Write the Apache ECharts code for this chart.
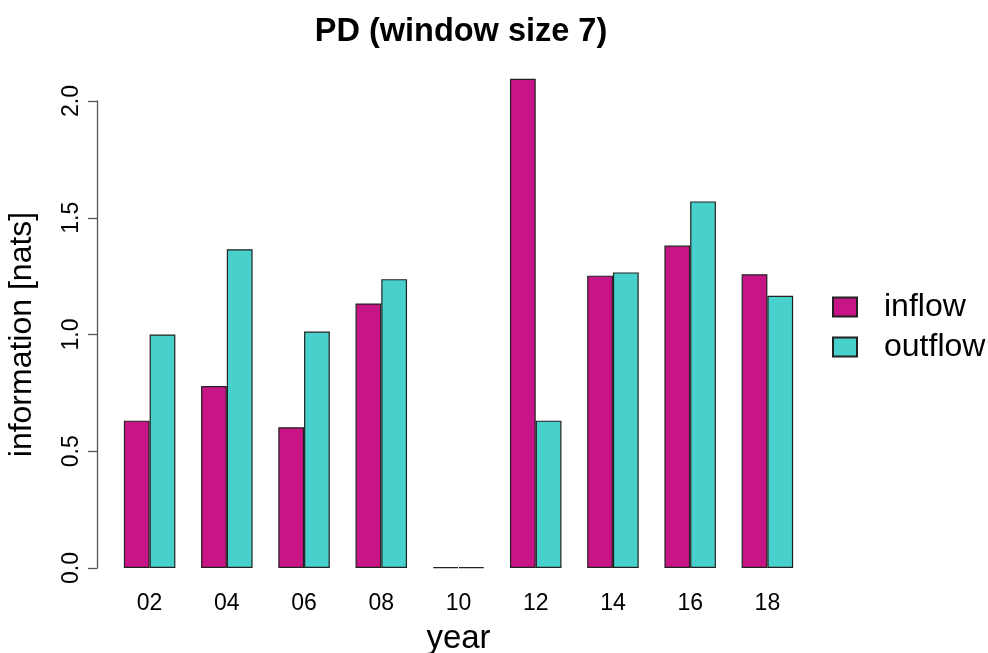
<!DOCTYPE html>
<html>
<head>
<meta charset="utf-8">
<title>PD (window size 7)</title>
<script src="https://cdn.jsdelivr.net/npm/echarts@6/dist/echarts.min.js"></script>
<style>
  html, body { margin: 0; padding: 0; background: #ffffff; }
  #chart { width: 988px; height: 653px; }
</style>
</head>
<body>
<div id="chart"></div>
<script>
// Two-digit year labels
const years = ['02', '04', '06', '08', '10', '12', '14', '16', '18'];
// Information transfer per window, in nats
const inflow  = [0.631, 0.779, 0.603, 1.133, 0.004, 2.095, 1.252, 1.381, 1.258];
const outflow = [1.000, 1.365, 1.013, 1.237, 0.004, 0.631, 1.266, 1.570, 1.166];
// Value-axis ticks
const yTicks = [0, 0.5, 1.0, 1.5, 2.0];

const FONT = '"Liberation Sans", Arial, Helvetica, sans-serif';
const INFLOW_COLOR = '#C71585';
const OUTFLOW_COLOR = '#48D1CC';

const chart = echarts.init(document.getElementById('chart'), null, { renderer: 'canvas' });

chart.setOption({
  animation: false,
  backgroundColor: '#ffffff',
  textStyle: { fontFamily: FONT, color: '#000' },
  title: {
    text: 'PD (window size 7)',
    left: 456,
    top: 11,
    textAlign: 'center',
    textStyle: { fontFamily: FONT, fontWeight: 'bold', fontSize: 32.5, color: '#000' }
  },
  legend: {
    orient: 'vertical',
    left: 827,
    top: 286,
    itemWidth: 24,
    itemHeight: 19,
    itemGap: 8,
    icon: 'rect',
    data: ['inflow', 'outflow'],
    textStyle: { fontFamily: FONT, fontSize: 32, color: '#000', padding: [0, 0, 0, 22] }
  },
  grid: {
    left: 111, right: 182, top: 101, bottom: 85,
    containLabel: false,
    outerBoundsMode: 'none'
  },
  xAxis: {
    type: 'category',
    data: years,
    name: 'year',
    nameLocation: 'middle',
    nameGap: 54,
    nameTextStyle: { fontFamily: FONT, fontSize: 33, color: '#000' },
    axisLine: { show: false },
    axisTick: { show: false },
    axisLabel: { fontFamily: FONT, fontSize: 23, color: '#000', margin: 24 },
    splitLine: { show: false }
  },
  yAxis: {
    type: 'value',
    min: yTicks[0],
    max: yTicks[yTicks.length - 1],
    interval: 0.5,
    offset: 14,
    name: 'information [nats]',
    nameLocation: 'middle',
    nameGap: 59,
    nameTextStyle: { fontFamily: FONT, fontSize: 32, color: '#000' },
    axisLine: { show: true, lineStyle: { color: '#555', width: 1.3 } },
    axisTick: { show: true, length: 9, lineStyle: { color: '#555', width: 1.3 } },
    axisLabel: {
      fontFamily: FONT, fontSize: 23, color: '#000', margin: 14, rotate: 90,
      formatter: v => v.toFixed(1)
    },
    splitLine: { show: false }
  },
  series: [
    {
      name: 'inflow',
      type: 'bar',
      data: inflow,
      clip: false,
      barGap: '0%',
      barCategoryGap: '33.3%',
      itemStyle: { color: INFLOW_COLOR, borderColor: '#222', borderWidth: 1.2 }
    },
    {
      name: 'outflow',
      type: 'bar',
      data: outflow,
      clip: false,
      barGap: '0%',
      barCategoryGap: '33.3%',
      itemStyle: { color: OUTFLOW_COLOR, borderColor: '#222', borderWidth: 1.2 }
    }
  ]
});
</script>
</body>
</html>
